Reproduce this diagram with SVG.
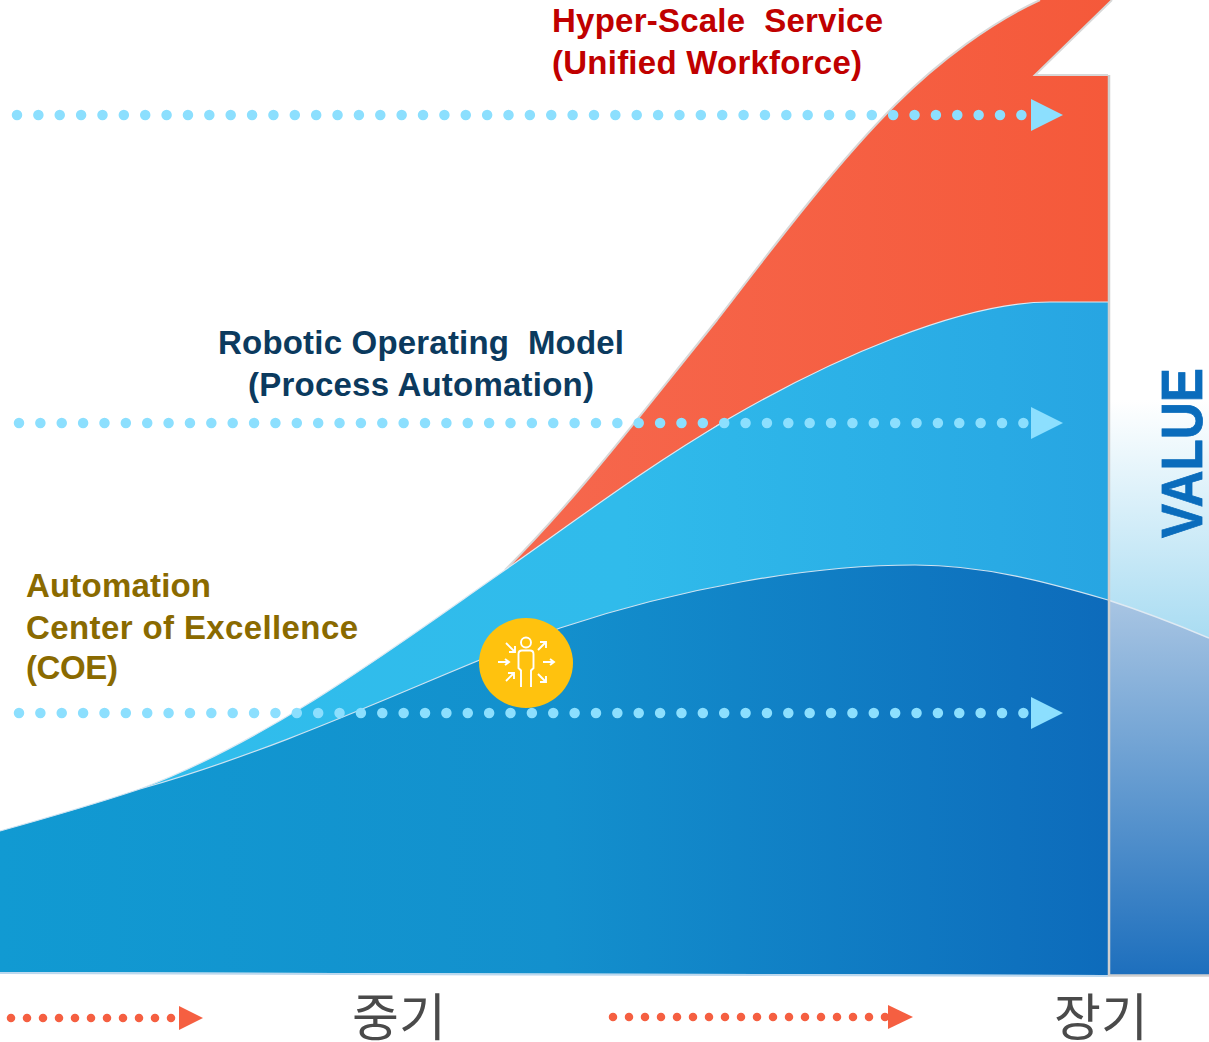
<svg xmlns="http://www.w3.org/2000/svg" width="1209" height="1042" viewBox="0 0 1209 1042">
<style>
.t{font-family:"Liberation Sans",Arial,sans-serif;font-weight:700;font-size:33px}
.k{font-family:"Noto Sans CJK KR","Noto Sans",sans-serif;font-size:51px;fill:#4a4a4a}
.dot{fill:none;stroke-linecap:round;stroke-width:10.5;stroke:#8cdffe;stroke-dasharray:0 21.37}
.dot2{fill:none;stroke-linecap:round;stroke-width:8.500;stroke:#f55f41;stroke-dasharray:0 16}
.ic{fill:none;stroke:#fff;stroke-width:1.9}
</style>
<defs>
<linearGradient id="g1" x1="0" x2="1" y1="0" y2="0"><stop offset="0" stop-color="#119ad2"/><stop offset="0.5" stop-color="#1390cd"/><stop offset="1" stop-color="#0d6bbb"/></linearGradient>
<linearGradient id="g2" x1="0" x2="1" y1="0" y2="0"><stop offset="0" stop-color="#30bdec"/><stop offset="0.5" stop-color="#30bbeb"/><stop offset="1" stop-color="#27a5e2"/></linearGradient>
<linearGradient id="g3" x1="0" x2="1" y1="0" y2="0"><stop offset="0" stop-color="#f6684e"/><stop offset="1" stop-color="#f5593a"/></linearGradient>
<linearGradient id="g4" x1="0" x2="0" y1="0" y2="1"><stop offset="0" stop-color="#ffffff"/><stop offset="1" stop-color="#a9dcf2"/></linearGradient>
<linearGradient id="g5" x1="0" x2="0" y1="0" y2="1"><stop offset="0" stop-color="#a8c5e3"/><stop offset="1" stop-color="#1d6fbd"/></linearGradient>
</defs>
<g id="value-panel">
<path d="M1108 75V975H1209V75Z" fill="#fff"/>
<path d="M1108 400H1209V638L1108 600Z" fill="url(#g4)"/>
<path d="M1108 600C1145 612 1178 625 1209 638V975H1108Z" fill="url(#g5)"/>
<path d="M1108 600C1145 612 1178 625 1209 638" fill="none" stroke="#dfeaf3" stroke-width="1.5"/>
<text transform="translate(1202 538) rotate(-90)" style="font-family:'Liberation Sans',Arial,sans-serif;font-weight:700;font-size:57px" fill="#0a6cbc" stroke="#0a6cbc" stroke-width="0.8" textLength="170" lengthAdjust="spacingAndGlyphs">VALUE</text>
</g>
<g id="hyper-scale-area">
<path d="M505 570C580 495 640 415 717 320C782 235 840 160 895 105C940 60 992 22 1040 0H1112L1035 75H1108V340H900L720 423Z" fill="url(#g3)"/>
<path d="M505 570C580 495 640 415 717 320C782 235 840 160 895 105C940 60 992 22 1040 0M1112 0L1035 75H1108" fill="none" stroke="#d8d8d8" stroke-width="2"/>
</g>
<g id="operating-model-area">
<path d="M140 789C270 740 390 650 505 570C590 510 650 465 730 418C830 360 960 302 1050 302H1108V610L600 700Z" fill="url(#g2)"/>
<path d="M140 789C270 740 390 650 505 570C590 510 650 465 730 418C830 360 960 302 1050 302H1108" fill="none" stroke="#dce9f2" stroke-width="1.2"/>
</g>
<g id="coe-area">
<path d="M0 831C50 817 95 804 140 789C295 745 430 677 560 628C680 588 810 565 915 565C985 565 1050 583 1108 600V975L0 972Z" fill="url(#g1)"/>
<path d="M0 831C50 817 95 804 140 789C295 745 430 677 560 628C680 588 810 565 915 565C985 565 1050 583 1108 600" fill="none" stroke="#cfe3f1" stroke-width="1.2"/>
</g>
<g id="frame">
<path d="M1109 75V975.500H1209" fill="none" stroke="#cfcfcf" stroke-width="2.500"/>
<path d="M0 973L1108 976" stroke="#bcd8ee" stroke-width="2" fill="none"/>
</g>
<g id="connectors">
<path class="dot" d="M17 115H1030"/>
<path d="M1031 99L1063 115L1031 131Z" fill="#8cdffe"/>
<path class="dot" d="M19 423H1030"/>
<path d="M1031 407L1063 423L1031 439Z" fill="#8cdffe"/>
<path class="dot" d="M19 713H1030"/>
<path d="M1031 697L1063 713L1031 729Z" fill="#8cdffe"/>
<path class="dot2" d="M11 1018H176"/>
<path d="M179 1006L203 1018L179 1030Z" fill="#f55f41"/>
<path class="dot2" d="M613 1017H890"/>
<path d="M888 1005L913 1017L888 1029Z" fill="#f55f41"/>
</g>
<g id="icon">
<ellipse cx="526" cy="663" rx="47" ry="45" fill="#ffc20e"/>
<circle class="ic" cx="526" cy="642.500" r="5"/>
<path class="ic" d="M521 687V670.500L518.500 668V654Q518.500 650.500 522 650.500H530Q533.500 650.500 533.500 654V668L531 670.500V687"/>
<path class="ic" d="M506 643L515 652M515 646V652H509M538 650L546 642M540 642H546V648M498 662H509M505 659L509 662L505 665M543 662H554M550 659L554 662L550 665M506 681L514 673M508 673H514V679M538 674L546 682M546 676V682H540"/>
</g>
<g id="label-hyper">
<text class="t" x="552" y="32" fill="#c00000" xml:space="preserve" textLength="331">Hyper-Scale  Service</text>
<text class="t" x="552" y="74" fill="#c00000" textLength="310">(Unified Workforce)</text>
</g>
<g id="label-rom">
<text class="t" x="218" y="354" fill="#0b3a5e" xml:space="preserve" textLength="406">Robotic Operating  Model</text>
<text class="t" x="248" y="396" fill="#0b3a5e" textLength="346">(Process Automation)</text>
</g>
<g id="label-coe">
<text class="t" x="26" y="597" fill="#8a6a00" textLength="185">Automation</text>
<text class="t" x="26" y="639" fill="#8a6a00" textLength="332">Center of Excellence</text>
<text class="t" x="26" y="679" fill="#8a6a00" textLength="92">(COE)</text>
</g>
<g id="axis">
<text class="k" x="352" y="1036">중기</text>
<text class="k" x="1054" y="1036">장기</text>
</g>
</svg>
